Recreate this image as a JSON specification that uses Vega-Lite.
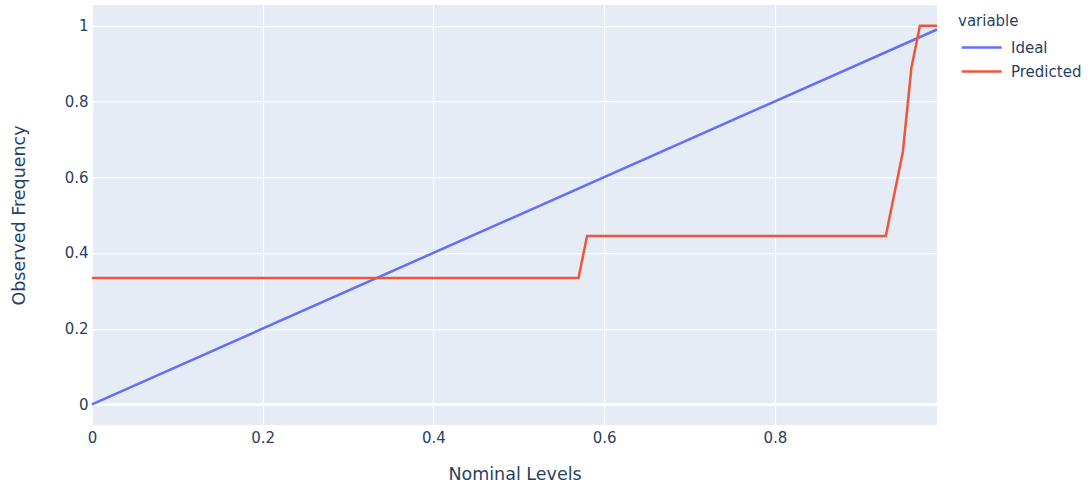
{
  "$schema": "https://vega.github.io/schema/vega-lite/v6.json",
  "width": 845,
  "height": 420,
  "autosize": {"type": "none"},
  "padding": {"left": 92, "top": 5, "right": 151, "bottom": 62},
  "background": "white",
  "config": {
    "font": "DejaVu Sans",
    "view": {"fill": "#E5ECF6", "stroke": null},
    "axis": {
      "domain": false,
      "ticks": false,
      "grid": true,
      "gridColor": "white",
      "gridWidth": 1.25,
      "labelColor": "#2a3f5f",
      "labelFontSize": 15,
      "titleColor": "#2a3f5f",
      "titleFontSize": 17.5,
      "titleFontWeight": "normal"
    }
  },
  "data": {
    "values": [
      {"level": 0, "freq": 0, "variable": "Ideal"},
      {"level": 0.99, "freq": 0.99, "variable": "Ideal"},
      {"level": 0, "freq": 0.3333, "variable": "Predicted"},
      {"level": 0.57, "freq": 0.3333, "variable": "Predicted"},
      {"level": 0.58, "freq": 0.4444, "variable": "Predicted"},
      {"level": 0.93, "freq": 0.4444, "variable": "Predicted"},
      {"level": 0.95, "freq": 0.6667, "variable": "Predicted"},
      {"level": 0.96, "freq": 0.8889, "variable": "Predicted"},
      {"level": 0.97, "freq": 1, "variable": "Predicted"},
      {"level": 0.99, "freq": 1, "variable": "Predicted"}
    ]
  },
  "layer": [
    {
      "mark": {"type": "rule", "color": "white", "strokeWidth": 2.5},
      "encoding": {"y": {"datum": 0, "type": "quantitative"}}
    },
    {
      "mark": {"type": "line", "strokeWidth": 2.5},
      "encoding": {
        "x": {
          "field": "level",
          "type": "quantitative",
          "title": "Nominal Levels",
          "scale": {"domain": [0, 0.99], "nice": false, "zero": false},
          "axis": {
            "values": [0, 0.2, 0.4, 0.6, 0.8],
            "format": "~g",
            "labelFlush": false,
            "labelPadding": 5,
            "titlePadding": 20
          }
        },
        "y": {
          "field": "freq",
          "type": "quantitative",
          "title": "Observed Frequency",
          "scale": {"domain": [-0.0547, 1.0547], "nice": false, "zero": false},
          "axis": {
            "values": [0, 0.2, 0.4, 0.6, 0.8, 1],
            "format": "~g",
            "labelFlush": false,
            "labelPadding": 4,
            "titlePadding": 36
          }
        },
        "color": {
          "field": "variable",
          "type": "nominal",
          "scale": {"domain": ["Ideal", "Predicted"], "range": ["#636efa", "#EF553B"]},
          "legend": {
            "orient": "none",
            "legendX": 866,
            "legendY": 9,
            "padding": 0,
            "title": "variable",
            "titleFontSize": 15,
            "titleFontWeight": "normal",
            "titleColor": "#2a3f5f",
            "titlePadding": 7,
            "labelFontSize": 15,
            "labelColor": "#2a3f5f",
            "labelOffset": 30,
            "symbolType": "M-0.78,0H3.22",
            "symbolSize": 400,
            "symbolStrokeWidth": 2.5,
            "rowPadding": 4
          }
        }
      }
    }
  ]
}
